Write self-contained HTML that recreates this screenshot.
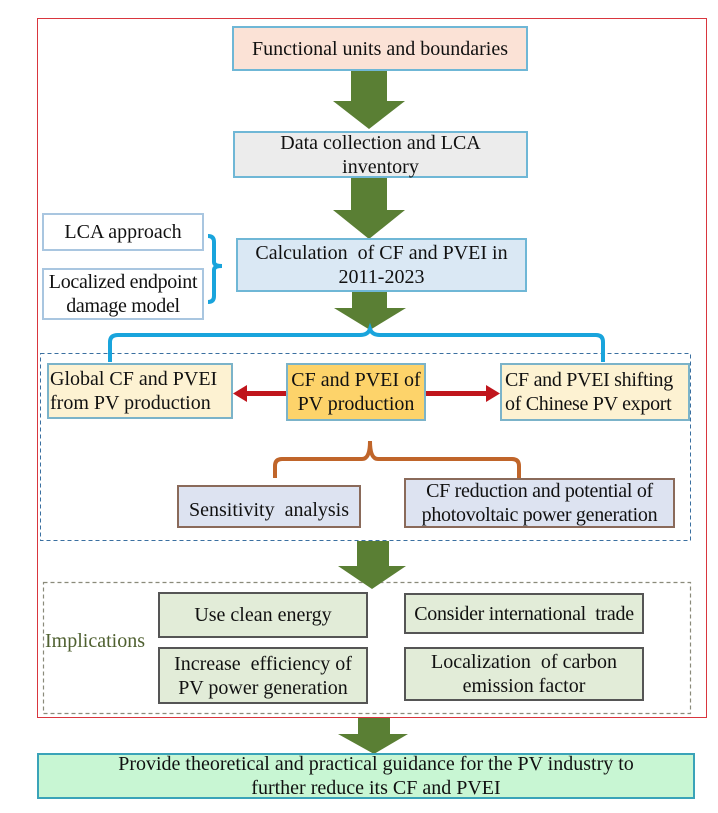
<!DOCTYPE html>
<html><head><style>
body{margin:0;width:718px;height:813px;background:#fff;position:relative;overflow:hidden;font-family:"Liberation Serif",serif;}
.b{position:absolute;box-sizing:border-box;display:flex;align-items:center;justify-content:center;text-align:center;font-size:20px;line-height:24px;color:#111;white-space:nowrap;}
svg{position:absolute;left:0;top:0}
</style></head><body>
<svg width="718" height="813">
<rect x="37.5" y="18.5" width="669" height="699" fill="none" stroke="#d9363e" stroke-width="1"/>
<rect x="40.5" y="353.5" width="650" height="187" fill="none" stroke="#3a6fa0" stroke-width="1" stroke-dasharray="4,3"/>
<rect x="43.5" y="582.5" width="647" height="131" fill="none" stroke="#8a8a7a" stroke-width="1.2" stroke-dasharray="4,3"/>
<g fill="#5a7f34">
<polygon points="351,71 387,71 387,101 405,101 369,129 333,101 351,101"/>
<polygon points="351,178 387,178 387,210 405,210 369,239 333,210 351,210"/>
<polygon points="352,291 387,291 387,308 406,308 370,330 334,308 352,308"/>
<polygon points="357,541 389,541 389,566 406,566 372,589 338,566 357,566"/>
<polygon points="358,718 390,718 390,734 408,734 374,754 338,734 358,734"/>
</g>
<path d="M208,236 Q214,236 214,242 L214,262 Q214,266 222,266 Q214,266 214,270 L214,296 Q214,302 208,302" fill="none" stroke="#19a4dc" stroke-width="4"/>
<path d="M110,362 L110,342 Q110,335 118,335 L360,335 Q368,335 370,329 Q372,335 380,335 L596,335 Q603,335 603,342 L603,362" fill="none" stroke="#19a4dc" stroke-width="4"/>
<path d="M275,478 L275,466 Q275,459 282,459 L362,459 Q370,459 370,441 Q370,459 378,459 L512,459 Q519,459 519,466 L519,478" fill="none" stroke="#c0652a" stroke-width="4"/>
<g fill="#c0151c">
<rect x="245" y="391" width="41" height="5"/><polygon points="233,393.5 247,385 247,402"/>
<rect x="425" y="391" width="63" height="5"/><polygon points="500,393.5 486,385 486,402"/>
</g>
</svg>
<div class="b" style="left:232px;top:26px;width:296px;height:45px;background:#fbe2d6;border:2px solid #6fb7d6">Functional units and boundaries</div>
<div class="b" style="left:233px;top:131px;width:295px;height:47px;background:#ececec;border:2px solid #6fb7d6">Data collection and LCA<br>inventory</div>
<div class="b" style="left:236px;top:238px;width:291px;height:54px;background:#dae8f4;border:2px solid #6fb7d6">Calculation &nbsp;of CF and PVEI in<br>2011-2023</div>
<div class="b" style="left:42px;top:213px;width:162px;height:38px;background:#fff;border:2px solid #a9c6e0">LCA approach</div>
<div class="b" style="left:42px;top:268px;width:162px;height:52px;background:#fff;border:2px solid #a9c6e0;letter-spacing:-0.3px">Localized endpoint<br>damage model</div>
<div class="b" style="left:47px;top:363px;width:186px;height:56px;background:#fdf2d2;border:2px solid #7bb3c9;justify-content:flex-start;text-align:left;padding-left:1px">Global CF and PVEI<br>from PV production</div>
<div class="b" style="left:286px;top:363px;width:140px;height:58px;background:#fdd36a;border:2px solid #7bb3c9">CF and PVEI of<br>PV production</div>
<div class="b" style="left:500px;top:363px;width:190px;height:58px;background:#fdf2d2;border:2px solid #7bb3c9;justify-content:flex-start;text-align:left;padding-left:3px;letter-spacing:-0.3px">CF and PVEI shifting<br>of Chinese PV export</div>
<div class="b" style="left:177px;top:485px;width:184px;height:43px;background:#dde3f1;border:2px solid #8a6a5a;padding-top:6px">Sensitivity &nbsp;analysis</div>
<div class="b" style="left:404px;top:478px;width:271px;height:50px;background:#dde3f1;border:2px solid #8a6a5a;letter-spacing:-0.3px">CF reduction and potential of<br>photovoltaic power generation</div>
<div class="b" style="left:45px;top:628px;width:110px;height:26px;justify-content:flex-start;color:#4f6030">Implications</div>
<div class="b" style="left:158px;top:592px;width:210px;height:46px;background:#e2ecd8;border:2px solid #555">Use clean energy</div>
<div class="b" style="left:404px;top:593px;width:240px;height:41px;background:#e2ecd8;border:2px solid #555;letter-spacing:-0.3px">Consider international &nbsp;trade</div>
<div class="b" style="left:158px;top:647px;width:210px;height:57px;background:#e2ecd8;border:2px solid #555">Increase &nbsp;efficiency of<br>PV power generation</div>
<div class="b" style="left:404px;top:647px;width:240px;height:54px;background:#e2ecd8;border:2px solid #555">Localization &nbsp;of carbon<br>emission factor</div>
<div class="b" style="left:37px;top:753px;width:658px;height:46px;background:#c8f6d3;border:2px solid #3aa3b8;padding-left:20px">Provide theoretical and practical guidance for the PV industry to<br>further reduce its CF and PVEI</div>
</body></html>
